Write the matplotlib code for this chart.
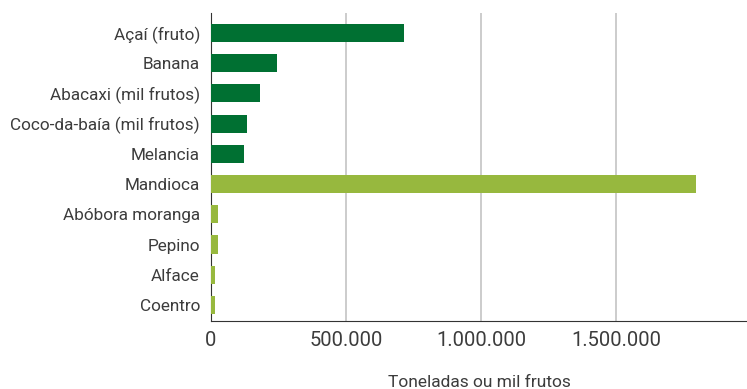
import matplotlib
matplotlib.use("Agg")
from matplotlib import pyplot as plt
from matplotlib.ticker import FuncFormatter

# produção por cultura (toneladas ou mil frutos)
categories = [
    "Açaí (fruto)",
    "Banana",
    "Abacaxi (mil frutos)",
    "Coco-da-baía (mil frutos)",
    "Melancia",
    "Mandioca",
    "Abóbora moranga",
    "Pepino",
    "Alface",
    "Coentro",
]
values = [715000, 244000, 181000, 133000, 122000, 1796000, 26000, 26000, 15000, 15000]
groups = ["fruta"] * 5 + ["lavoura"] * 5

colors = {"fruta": "#007032", "lavoura": "#97b83e"}
text_color = "#3c3c3c"

plt.rcParams["font.family"] = ["Roboto", "DejaVu Sans"]

fig = plt.figure(figsize=(7.47, 3.89), dpi=100)
ax = fig.add_axes([211 / 747, 1 - 321 / 389, 536 / 747, 308 / 389])

pos = list(range(len(categories)))
ax.barh(pos, values, height=0.6, color=[colors[g] for g in groups], zorder=3)

ax.set_ylim(9.53, -0.66)
ax.set_xlim(0, 1985000)
ax.set_xticks([0, 500000, 1000000, 1500000])
ax.xaxis.set_major_formatter(FuncFormatter(lambda v, _: f"{int(v):,}".replace(",", ".")))
ax.set_yticks(pos)
ax.set_yticklabels(categories)

ax.grid(axis="x", color="#c4c4c4", linewidth=1.2, zorder=0)
for s in ("top", "right"):
    ax.spines[s].set_visible(False)
ax.spines["left"].set_color("#333333")
ax.spines["bottom"].set_color("#333333")
ax.tick_params(axis="both", length=0, colors=text_color)
ax.tick_params(axis="y", labelsize=12.3, pad=8)
ax.tick_params(axis="x", labelsize=14.5, pad=7)

ax.set_xlabel("Toneladas ou mil frutos", fontsize=12.5, color=text_color, labelpad=18)

fig.savefig("out.png", dpi=100)
